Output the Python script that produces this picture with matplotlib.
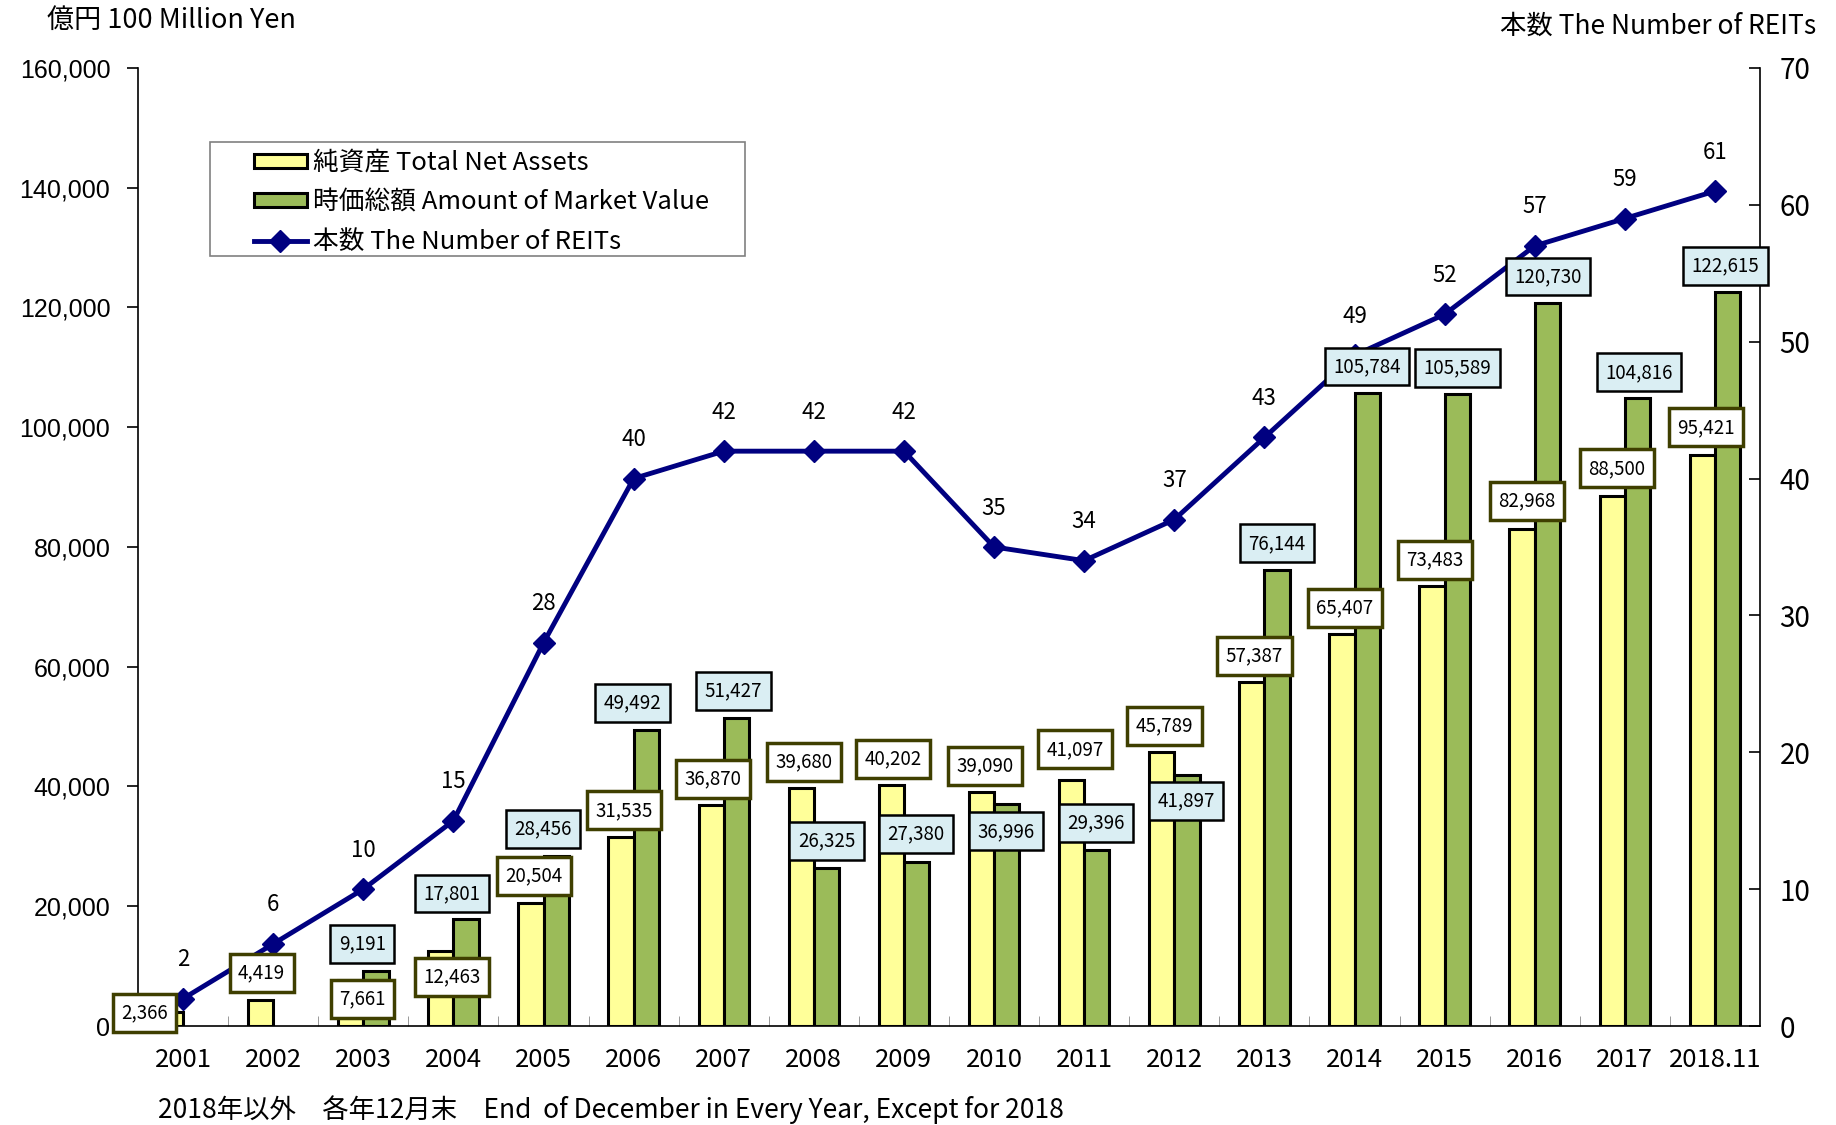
import matplotlib
matplotlib.use("Agg")
import matplotlib.pyplot as plt
from matplotlib.patches import Patch, Rectangle
from matplotlib.lines import Line2D
import numpy as np

plt.rcParams['font.family'] = ['Liberation Sans', 'Noto Sans CJK JP', 'DejaVu Sans']
CJK = ['Noto Sans CJK JP', 'DejaVu Sans']

# === data ===
years = ["2001", "2002", "2003", "2004", "2005", "2006", "2007", "2008", "2009",
         "2010", "2011", "2012", "2013", "2014", "2015", "2016", "2017", "2018.11"]
net_assets = [2366, 4419, 7661, 12463, 20504, 31535, 36870, 39680, 40202,
              39090, 41097, 45789, 57387, 65407, 73483, 82968, 88500, 95421]
market_value = [None, None, 9191, 17801, 28456, 49492, 51427, 26325, 27380,
                36996, 29396, 41897, 76144, 105784, 105589, 120730, 104816, 122615]
num_reits = [2, 6, 10, 15, 28, 40, 42, 42, 42, 35, 34, 37, 43, 49, 52, 57, 59, 61]

# label placement (x offset from category centre, y in 100 million yen)
na_lab_dx = [-0.43, -0.13, -0.01, -0.02, -0.11, -0.11, -0.12, -0.11, -0.12,
             -0.10, -0.10, -0.11, -0.11, -0.11, -0.11, -0.09, -0.09, -0.10]
na_lab_y = [2190, 8830, 4530, 8250, 25070, 36020, 41300, 44040, 44620,
            43450, 46190, 50100, 61820, 69860, 77870, 87640, 93120, 99970]
mv_lab_dx = [0, 0, -0.01, -0.02, -0.01, -0.01, 0.11, 0.14, 0.13,
             0.13, 0.13, 0.13, 0.14, 0.14, 0.14, 0.15, 0.16, 0.12]
mv_lab_y = [0, 0, 13730, 22130, 32880, 54010, 55960, 30930, 32100,
            32500, 33870, 37570, 80610, 110140, 109940, 125180, 109150, 126950]

YELLOW = "#FFFF99"
GREEN = "#9BBB59"
NAVY = "#000080"
BW = 0.28

fig = plt.figure(figsize=(18.36, 11.25), dpi=100)
ax = fig.add_axes([0.0752, 0.088, 0.8834, 0.8516])
ax2 = ax.twinx()

x = np.arange(len(years))
mv = np.array([v if v is not None else np.nan for v in market_value], dtype=float)

ax.bar(x - BW / 2, net_assets, BW, color=YELLOW, edgecolor="black", linewidth=2.2, zorder=2)
b2 = ax.bar(x + BW / 2, np.nan_to_num(mv), BW, color=GREEN, edgecolor="black",
            linewidth=2.2, zorder=2)
for i, v in enumerate(market_value):
    if v is None:
        b2[i].set_visible(False)

ax.set_xlim(-0.5, len(years) - 0.5)
ax.set_ylim(0, 160000)
ax.set_yticks(np.arange(0, 160001, 20000))
ax.set_yticklabels([f"{v:,}" for v in range(0, 160001, 20000)], fontsize=18)
ax.set_xticks(x)
ax.set_xticklabels(years, fontsize=18.5, family=CJK)
ax.tick_params(axis='x', length=0, pad=15)
ax.set_xticks(np.arange(0.5, len(years) - 1, 1), minor=True)
ax.tick_params(axis='x', which='minor', direction='in', length=7, color='#888888')
ax.tick_params(axis='y', direction='out', length=8, width=1.2, pad=12)
ax.spines['top'].set_visible(False)
ax.spines['right'].set_visible(False)
ax.spines['left'].set_linewidth(1.2)
ax.spines['bottom'].set_linewidth(1.2)

ax2.plot(x, num_reits, color=NAVY, lw=3.5, marker="D", markersize=11, zorder=3)
ax2.set_ylim(0, 70)
ax2.set_yticks(np.arange(0, 71, 10))
ax2.set_yticklabels([str(v) for v in range(0, 71, 10)], fontsize=20, family=CJK)
ax2.tick_params(axis='y', direction='in', length=8, width=1.2, pad=14)
ax2.spines['top'].set_visible(False)
ax2.spines['left'].set_visible(False)
ax2.spines['right'].set_linewidth(1.2)
ax2.spines['bottom'].set_visible(False)

for i, n in enumerate(num_reits):
    ax2.annotate(str(n), (x[i], n), xytext=(0, 28), textcoords="offset points",
                 ha="center", va="center", fontsize=16, family=CJK)

# value boxes drawn on top of everything
tr = ax.transData
for i, v in enumerate(net_assets):
    t = fig.text(0, 0, f"{v:,}", transform=tr, fontsize=13.5, ha="center", va="center",
                 zorder=10, family=CJK,
                 bbox=dict(boxstyle="square,pad=0.45", fc="white", ec="#3F3F00", lw=2.5))
    t.set_position((x[i] + na_lab_dx[i], na_lab_y[i]))
for i, v in enumerate(market_value):
    if v is None:
        continue
    t = fig.text(0, 0, f"{v:,}", transform=tr, fontsize=13.5, ha="center", va="center",
                 zorder=10, family=CJK,
                 bbox=dict(boxstyle="square,pad=0.45", fc="#DAEEF3", ec="black", lw=1.8))
    t.set_position((x[i] + mv_lab_dx[i], mv_lab_y[i]))

# legend: frame drawn separately so the side padding can be wider than the top
ax2.add_patch(Rectangle((0.0444, 0.8038), 0.3298, 0.119, transform=ax.transAxes,
                        fc="white", ec="#808080", lw=1.2, zorder=11))
handles = [
    Patch(facecolor=YELLOW, edgecolor="black", linewidth=2.2),
    Patch(facecolor=GREEN, edgecolor="black", linewidth=2.2),
    Line2D([], [], color=NAVY, lw=3.5, marker="D", markersize=11),
]
labels = ["純資産 Total Net Assets", "時価総額 Amount of Market Value", "本数 The Number of REITs"]
leg = ax2.legend(handles, labels, loc="upper left", bbox_to_anchor=(0.0715, 0.9145),
                 bbox_transform=ax.transAxes, borderaxespad=0, frameon=False,
                 handlelength=2.05, handleheight=0.45, labelspacing=0.52,
                 borderpad=0, handletextpad=0.25, prop={'family': CJK, 'size': 18.5})
leg.set_zorder(12)

fig.text(47 / 1836, 1 - 20 / 1125, "億円 100 Million Yen", fontsize=19.5, ha="left",
         va="center", family=CJK)
fig.text(1816 / 1836, 1 - 26 / 1125, "本数 The Number of REITs", fontsize=19, ha="right",
         va="center", family=CJK)
fig.text(158 / 1836, 1 - 1110 / 1125,
         "2018年以外\u3000各年12月末\u3000End  of December in Every Year, Except for 2018",
         fontsize=19, ha="left", va="center", family=CJK)

fig.savefig("out.png", dpi=100)
